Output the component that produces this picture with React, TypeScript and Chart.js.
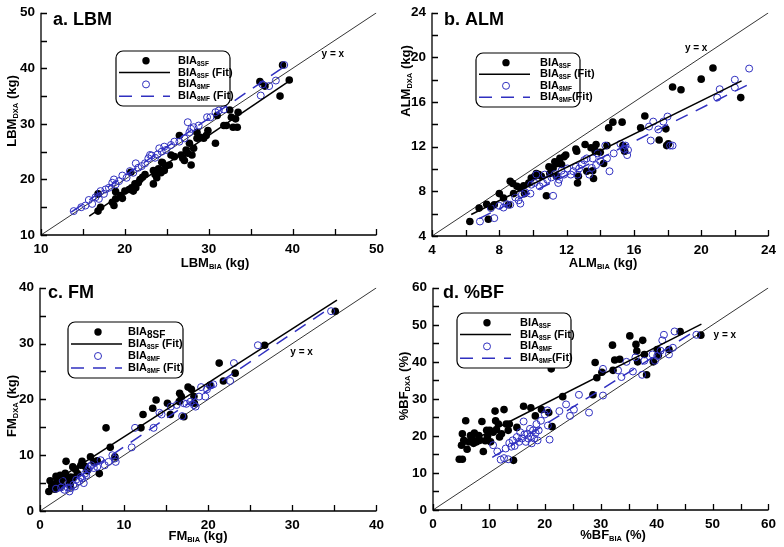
import React, { useEffect, useRef } from "react";
import { Chart, registerables } from "chart.js";
Chart.register(...registerables);

const FONT = "'Liberation Sans', Arial, Helvetica, sans-serif";
const BLUE = "#3030c0";

type Pt = [number, number];
type Seg = { t: string; sub?: boolean };

// ---------- a. LBM ----------
const lbmRange: Pt = [10, 50];
const lbmSF: Pt[] = [
  [16.8, 17.4], [16.8, 14.3], [17.1, 15.0], [18.5, 15.9], [18.7, 15.3], [18.9, 16.5], [18.9, 17.8], [19.5, 17.1],
  [19.7, 16.6], [20.0, 17.9], [20.5, 18.2], [20.8, 18.5], [21.0, 17.9], [21.2, 19.2], [21.3, 18.5], [21.6, 19.4],
  [21.8, 20.0], [22.1, 20.4], [22.4, 20.9], [23.4, 19.2], [23.4, 21.6], [23.6, 20.9], [23.8, 20.3], [24.0, 21.9],
  [24.3, 21.2], [24.4, 23.1], [24.7, 21.6], [24.9, 22.4], [25.3, 22.6], [25.5, 24.4], [25.9, 24.1], [26.5, 27.9],
  [26.7, 24.4], [26.9, 23.8], [27.1, 23.4], [27.3, 25.3], [27.5, 24.7], [27.7, 26.5], [27.9, 22.6], [28.0, 24.4],
  [28.2, 25.6], [28.6, 28.5], [28.6, 27.4], [29.0, 27.6], [29.4, 27.4], [29.7, 27.9], [29.9, 28.8], [30.8, 26.5],
  [31.0, 31.5], [31.8, 29.7], [32.1, 29.7], [32.5, 32.5], [32.7, 31.2], [32.9, 29.4], [33.2, 30.9], [33.4, 29.4],
  [33.5, 32.1], [36.1, 37.6], [36.7, 36.8], [38.5, 35.0], [38.8, 40.6], [39.6, 37.9], [20.7, 21.3], [24.5, 23.0],
];
const lbmMF: Pt[] = [
  [13.9, 14.3], [14.8, 15.0], [15.3, 15.3], [15.7, 16.3], [16.1, 15.6], [16.5, 16.8], [16.9, 16.5], [17.1, 17.9],
  [17.5, 17.4], [17.7, 18.2], [18.1, 18.5], [18.5, 19.4], [18.7, 20.0], [18.9, 19.1], [19.3, 19.7], [19.7, 20.7],
  [20.2, 20.3], [20.6, 21.5], [21.0, 21.2], [21.3, 22.9], [21.6, 22.1], [22.0, 22.4], [22.4, 22.9], [22.8, 23.8],
  [23.0, 24.4], [23.2, 24.3], [23.6, 23.9], [23.9, 24.5], [24.1, 25.6], [24.4, 25.0], [24.7, 25.9], [24.9, 25.3],
  [25.5, 26.2], [25.9, 26.8], [26.5, 26.8], [27.1, 27.4], [27.5, 30.3], [27.7, 28.5], [27.9, 29.1], [28.2, 29.4],
  [28.8, 29.7], [29.8, 31.2], [30.2, 31.2], [30.8, 32.1], [31.2, 32.4], [31.8, 32.6], [36.2, 35.1], [36.4, 37.1],
  [37.2, 36.8], [38.0, 37.8], [39.0, 40.6],
];
const lbmSFFit: Pt[] = [[15.75, 13.4], [39.8, 37.9]];
const lbmMFFit: Pt[] = [[13.6, 14.1], [39.2, 40.5]];
const lbmYxLabel: Pt = [44.8, 42.6];

// ---------- b. ALM ----------
const almRange: Pt = [4, 24];
const almSF: Pt[] = [
  [6.25, 5.3], [6.8, 6.5], [7.35, 5.5], [7.25, 6.85], [7.5, 6.6], [7.7, 6.8], [8.0, 7.8], [8.25, 7.4],
  [8.55, 6.8], [8.65, 8.9], [8.8, 8.7], [8.85, 7.8], [9.05, 8.45], [9.25, 8.3], [9.45, 8.5], [9.5, 7.8],
  [9.75, 8.75], [9.9, 9.2], [10.1, 9.35], [10.2, 9.6], [10.35, 9.5], [10.5, 9.35], [10.8, 7.6], [10.95, 10.2],
  [11.0, 9.6], [11.2, 10.1], [11.3, 10.65], [11.4, 9.35], [11.45, 10.5], [11.6, 10.95], [11.7, 10.4], [11.85, 11.1],
  [11.95, 11.25], [12.55, 11.8], [12.6, 11.6], [12.65, 8.75], [12.7, 9.35], [13.1, 12.2], [13.2, 9.8], [13.45, 11.9],
  [13.55, 9.85], [13.6, 9.15], [13.7, 11.6], [13.75, 12.2], [14.0, 11.5], [14.2, 10.5], [14.4, 12.1], [14.5, 13.7],
  [14.75, 14.2], [15.3, 14.2], [15.35, 12.1], [15.45, 11.6], [16.4, 13.7], [16.65, 14.75], [17.5, 12.6], [17.9, 13.6],
  [17.95, 12.1], [18.05, 12.25], [18.3, 17.35], [18.8, 17.1], [20.0, 18.05], [20.7, 19.05], [22.35, 16.4],
];
const almMF: Pt[] = [
  [6.85, 5.3], [7.7, 5.6], [7.5, 6.5], [8.0, 6.7], [8.25, 6.55], [8.45, 6.85], [8.65, 6.8], [8.95, 7.45],
  [9.15, 7.2], [9.25, 6.9], [9.35, 7.75], [9.55, 7.9], [9.85, 7.8], [9.9, 8.6], [10.1, 8.75], [10.2, 9.5],
  [10.4, 8.45], [10.6, 8.75], [10.7, 9.5], [10.85, 9.05], [11.1, 9.25], [11.2, 7.6], [11.3, 9.55], [11.5, 8.75],
  [11.55, 9.05], [11.7, 9.85], [11.85, 9.5], [12.05, 10.05], [12.25, 9.5], [12.4, 9.8], [12.55, 10.2], [12.65, 9.5],
  [12.75, 10.05], [12.9, 10.4], [13.05, 10.8], [13.2, 10.95], [13.35, 9.5], [13.5, 10.1], [13.55, 10.95], [13.75, 10.35],
  [13.85, 11.4], [14.0, 10.7], [14.3, 12.1], [14.4, 10.95], [14.55, 9.8], [14.8, 11.4], [15.2, 12.25], [15.4, 11.8],
  [15.5, 12.1], [15.6, 11.25], [15.65, 11.7], [17.0, 12.55], [16.9, 13.8], [17.15, 14.25], [17.45, 13.55], [17.75, 14.25],
  [18.0, 14.7], [18.15, 12.1], [18.3, 12.1], [20.95, 16.4], [21.1, 17.15], [22.0, 17.3], [22.0, 18.0], [22.85, 19.0],
];
const almSFFit: Pt[] = [[6.33, 5.93], [22.4, 17.9]];
const almMFFit: Pt[] = [[6.8, 5.55], [22.85, 17.6]];
const almYxLabel: Pt = [19.7, 20.8];

// ---------- c. FM ----------
const fmRange: Pt = [0, 40];
const fmSF: Pt[] = [
  [1.05, 3.5], [1.2, 5.4], [1.5, 4.0], [1.7, 4.7], [2.0, 5.85], [2.2, 5.3], [2.4, 6.4], [2.6, 4.6],
  [2.75, 5.85], [3.0, 6.75], [3.1, 8.9], [3.3, 5.85], [3.5, 5.0], [3.65, 6.1], [3.9, 7.9], [4.2, 7.5],
  [4.45, 6.7], [4.85, 8.2], [5.0, 8.9], [5.35, 8.0], [5.6, 7.2], [6.0, 9.7], [6.4, 8.8], [6.8, 9.0],
  [7.05, 6.7], [7.85, 14.9], [8.35, 11.4], [8.9, 9.7], [12.0, 14.9], [12.25, 17.3], [13.4, 18.4], [13.8, 19.9],
  [15.15, 19.3], [15.5, 17.3], [16.55, 19.6], [16.6, 21.1], [16.8, 20.5], [17.1, 16.9], [17.6, 22.2], [18.0, 21.8],
  [18.3, 20.5], [18.35, 19.3], [20.2, 22.5], [21.3, 26.5], [21.8, 23.3], [23.2, 24.7], [26.7, 29.7], [35.1, 35.8],
  [1.4, 4.4], [1.9, 6.2], [2.3, 4.2], [2.9, 6.3], [3.6, 4.5], [2.5, 5.6], [4.0, 6.0], [1.8, 3.9],
];
const fmMF: Pt[] = [
  [1.9, 4.0], [2.5, 4.2], [2.7, 5.4], [2.9, 3.8], [3.3, 4.2], [3.5, 3.5], [3.65, 4.1], [3.95, 4.7],
  [4.15, 4.4], [4.3, 5.6], [4.65, 5.3], [4.85, 6.1], [5.0, 5.85], [5.2, 5.0], [5.35, 6.7], [5.5, 6.4],
  [5.75, 7.5], [5.9, 7.9], [6.1, 8.2], [6.4, 7.7], [6.8, 7.9], [7.2, 9.1], [7.7, 8.2], [8.15, 8.8],
  [8.6, 10.0], [8.9, 9.4], [9.0, 8.8], [10.9, 11.4], [11.3, 14.9], [13.5, 14.9], [14.2, 17.6], [14.45, 17.3],
  [15.55, 18.7], [16.25, 19.0], [16.9, 17.0], [17.1, 19.3], [17.4, 19.2], [17.9, 19.6], [18.3, 19.0], [18.5, 18.7],
  [18.9, 20.5], [19.15, 22.2], [19.65, 20.5], [19.85, 21.8], [20.3, 22.5], [20.6, 22.7], [22.6, 23.3], [23.05, 26.5],
  [25.9, 29.7], [34.6, 35.8],
];
const fmSFFit: Pt[] = [[1.0, 4.6], [35.3, 37.8]];
const fmMFFit: Pt[] = [[2.1, 3.5], [34.5, 36.4]];
const fmYxLabel: Pt = [31.1, 28.4];

// ---------- d. %BF ----------
const bfRange: Pt = [0, 60];
const bfSF: Pt[] = [
  [4.7, 13.7], [5.25, 13.7], [5.1, 17.5], [5.25, 20.6], [5.5, 18.8], [5.85, 24.1], [6.1, 16.4], [6.4, 18.4],
  [6.7, 20.1], [7.0, 19.7], [7.25, 18.0], [7.4, 20.8], [7.8, 18.4], [8.2, 20.1], [8.4, 18.8], [8.75, 23.9],
  [9.0, 15.8], [9.35, 18.7], [9.6, 21.5], [9.75, 19.9], [10.15, 21.5], [10.3, 18.4], [10.75, 21.0], [11.1, 26.7],
  [11.2, 24.1], [11.35, 21.7], [11.7, 23.2], [11.9, 19.7], [12.25, 20.6], [12.7, 27.1], [13.1, 23.2], [13.45, 21.5],
  [13.65, 23.2], [14.4, 13.4], [15.0, 22.3], [16.2, 28.0], [17.5, 27.6], [18.3, 25.4], [19.4, 27.1], [20.7, 26.3],
  [21.15, 38.1], [21.3, 22.5], [23.2, 30.6], [28.6, 31.1], [29.0, 39.8], [29.3, 35.7], [30.2, 37.2], [32.1, 44.5],
  [32.2, 37.7], [32.5, 40.5], [33.4, 40.7], [35.2, 47.0], [36.3, 44.7], [36.45, 42.9], [36.6, 40.0], [37.5, 45.8],
  [37.8, 42.0], [38.2, 36.5], [39.4, 40.0], [40.1, 43.3], [40.3, 41.8], [42.2, 43.3], [44.2, 48.2], [47.9, 47.2],
];
const bfMF: Pt[] = [
  [10.75, 17.5], [11.5, 15.8], [12.1, 13.6], [12.7, 14.0], [13.0, 16.6], [13.45, 13.7], [13.65, 18.1], [14.0, 17.1],
  [14.25, 18.8], [14.6, 17.3], [15.0, 19.7], [15.4, 18.4], [15.6, 21.0], [15.9, 19.3], [16.2, 23.9], [16.35, 20.4],
  [16.6, 18.4], [16.9, 20.6], [17.05, 19.3], [17.35, 21.9], [17.5, 19.9], [17.65, 18.0], [17.9, 21.5], [18.1, 19.3],
  [18.35, 20.8], [18.5, 23.2], [18.7, 18.8], [18.9, 21.5], [19.3, 24.1], [20.0, 25.8], [20.45, 26.9], [20.55, 22.8],
  [20.85, 19.0], [22.6, 26.7], [23.8, 28.5], [24.5, 25.4], [25.2, 27.1], [26.1, 31.1], [27.9, 26.3], [30.4, 38.1],
  [30.4, 30.9], [33.1, 37.7], [33.7, 35.9], [34.6, 40.0], [35.75, 37.4], [36.2, 41.2], [37.4, 36.5], [37.8, 40.3],
  [39.25, 42.0], [39.7, 40.3], [40.1, 41.6], [40.7, 43.0], [41.0, 45.8], [41.3, 47.3], [42.2, 42.0], [42.9, 43.8],
  [43.2, 48.2], [47.1, 47.3],
];
const bfSFFit: Pt[] = [[5.0, 17.2], [48.0, 50.2]];
const bfMFFit: Pt[] = [[10.6, 14.2], [46.3, 47.8]];
const bfYxLabel: Pt = [52.2, 47.1];

// ---------- text ----------
const legendA: Seg[][] = [
  [{ t: "BIA" }, { t: "8SF", sub: true }],
  [{ t: "BIA" }, { t: "8SF", sub: true }, { t: " (Fit)" }],
  [{ t: "BIA" }, { t: "8MF", sub: true }],
  [{ t: "BIA" }, { t: "8MF", sub: true }, { t: " (Fit)" }],
];
const legendB: Seg[][] = [
  [{ t: "BIA" }, { t: "8SF", sub: true }],
  [{ t: "BIA" }, { t: "8SF", sub: true }, { t: " (Fit)" }],
  [{ t: "BIA" }, { t: "8MF", sub: true }],
  [{ t: "BIA" }, { t: "8MF", sub: true }, { t: "(Fit)" }],
];
const legendC: Seg[][] = [
  [{ t: "BIA" }, { t: "8SF", sub: true }],
  [{ t: "BIA" }, { t: "8SF", sub: true }, { t: " (Fit)" }],
  [{ t: "BIA" }, { t: "8MF", sub: true }],
  [{ t: "BIA" }, { t: "8MF", sub: true }, { t: " (Fit)" }],
];
const legendD: Seg[][] = [
  [{ t: "BIA" }, { t: "8SF", sub: true }],
  [{ t: "BIA" }, { t: "8SF", sub: true }, { t: " (Fit)" }],
  [{ t: "BIA" }, { t: "8MF", sub: true }],
  [{ t: "BIA" }, { t: "8MF", sub: true }, { t: "(Fit)" }],
];

interface Panel {
  title: string;
  range: Pt; minor: number; major: number;
  sf: Pt[]; mf: Pt[]; sfFit: Pt[]; mfFit: Pt[]; yx: Pt;
  xTitle: Seg[]; yTitle: Seg[]; legend: Seg[][]; bigFirstSub?: boolean;
  cv: { x: number; y: number; w: number; h: number };
  area: { l: number; t: number; r: number; b: number };
  titlePos: Pt; xTitlePos: Pt; yTitlePos: Pt;
  legendBox: [number, number, number, number]; legendTextX: number;
}

const panels: Panel[] = [
  {
    title: "a. LBM", range: lbmRange, minor: 5, major: 10,
    sf: lbmSF, mf: lbmMF, sfFit: lbmSFFit, mfFit: lbmMFFit, yx: lbmYxLabel,
    xTitle: [{ t: "LBM" }, { t: "BIA", sub: true }, { t: " (kg)" }],
    yTitle: [{ t: "LBM" }, { t: "DXA", sub: true }, { t: " (kg)" }],
    legend: legendA,
    cv: { x: 0, y: 0, w: 392, h: 275 }, area: { l: 41, t: 8, r: 382, b: 235 },
    titlePos: [53, 25], xTitlePos: [215, 263], yTitlePos: [12, 111],
    legendBox: [116, 51, 114, 55], legendTextX: 62,
  },
  {
    title: "b. ALM", range: almRange, minor: 2, major: 4,
    sf: almSF, mf: almMF, sfFit: almSFFit, mfFit: almMFFit, yx: almYxLabel,
    xTitle: [{ t: "ALM" }, { t: "BIA", sub: true }, { t: " (kg)" }],
    yTitle: [{ t: "ALM" }, { t: "DXA", sub: true }, { t: " (kg)" }],
    legend: legendB,
    cv: { x: 392, y: 0, w: 392, h: 275 }, area: { l: 40, t: 8, r: 381, b: 236 },
    titlePos: [52, 25], xTitlePos: [211, 263], yTitlePos: [14, 81],
    legendBox: [84, 53, 104, 54], legendTextX: 64,
  },
  {
    title: "c. FM", range: fmRange, minor: 5, major: 10,
    sf: fmSF, mf: fmMF, sfFit: fmSFFit, mfFit: fmMFFit, yx: fmYxLabel,
    xTitle: [{ t: "FM" }, { t: "BIA", sub: true }, { t: " (kg)" }],
    yTitle: [{ t: "FM" }, { t: "DXA", sub: true }, { t: " (kg)" }],
    legend: legendC, bigFirstSub: true,
    cv: { x: 0, y: 275, w: 392, h: 272 }, area: { l: 40, t: 9, r: 382, b: 236 },
    titlePos: [48, 23.3], xTitlePos: [198, 261], yTitlePos: [12, 131],
    legendBox: [68, 47, 115, 56], legendTextX: 60,
  },
  {
    title: "d. %BF", range: bfRange, minor: 5, major: 10,
    sf: bfSF, mf: bfMF, sfFit: bfSFFit, mfFit: bfMFFit, yx: bfYxLabel,
    xTitle: [{ t: "%BF" }, { t: "BIA", sub: true }, { t: " (%)" }],
    yTitle: [{ t: "%BF" }, { t: "DXA", sub: true }, { t: " (%)" }],
    legend: legendD,
    cv: { x: 392, y: 275, w: 392, h: 272 }, area: { l: 41, t: 7, r: 383, b: 235 },
    titlePos: [51, 23.3], xTitlePos: [221, 260], yTitlePos: [12, 111],
    legendBox: [65, 38, 114, 55], legendTextX: 63,
  },
];

function drawSegs(ctx: CanvasRenderingContext2D, segs: Seg[], x: number, y: number, size: number, subSize: number, center: boolean) {
  let w = 0;
  for (const s of segs) {
    ctx.font = `bold ${s.sub ? subSize : size}px ${FONT}`;
    w += ctx.measureText(s.t).width;
  }
  let cx = center ? x - w / 2 : x;
  ctx.textAlign = "left";
  ctx.textBaseline = "middle";
  for (const s of segs) {
    ctx.font = `bold ${s.sub ? subSize : size}px ${FONT}`;
    ctx.fillText(s.t, cx, s.sub ? y + size * 0.3 : y);
    cx += ctx.measureText(s.t).width;
  }
}

function roundRectPath(ctx: CanvasRenderingContext2D, x: number, y: number, w: number, h: number, r: number) {
  ctx.beginPath();
  ctx.moveTo(x + r, y);
  ctx.arcTo(x + w, y, x + w, y + h, r);
  ctx.arcTo(x + w, y + h, x, y + h, r);
  ctx.arcTo(x, y + h, x, y, r);
  ctx.arcTo(x, y, x + w, y, r);
  ctx.closePath();
}

const decor = {
  id: "decor",
  afterDraw(chart: any, _args: any, opts: any) {
    const p: Panel = opts.cfg;
    if (!p) return;
    const ctx: CanvasRenderingContext2D = chart.ctx;
    const { left, right, top, bottom } = chart.chartArea;
    const xs = chart.scales.x, ys = chart.scales.y;
    const [mn, mx] = p.range;
    ctx.save();
    ctx.fillStyle = "#000";
    ctx.strokeStyle = "#000";
    // axes
    ctx.lineWidth = 1.3;
    ctx.beginPath();
    ctx.moveTo(left, top);
    ctx.lineTo(left, bottom);
    ctx.lineTo(right, bottom);
    ctx.stroke();
    // inner ticks at every minor step
    ctx.lineWidth = 1.3;
    ctx.beginPath();
    const n = Math.round((mx - mn) / p.minor);
    for (let i = 0; i <= n; i++) {
      const v = mn + i * p.minor;
      const px = Math.round(xs.getPixelForValue(v)) + 0.5;
      ctx.moveTo(px, bottom);
      ctx.lineTo(px, bottom - 6);
      const py = Math.round(ys.getPixelForValue(v)) + 0.5;
      ctx.moveTo(left, py);
      ctx.lineTo(left + 6, py);
    }
    ctx.stroke();
    // panel title
    ctx.font = `bold 18px ${FONT}`;
    ctx.textAlign = "left";
    ctx.textBaseline = "alphabetic";
    ctx.fillText(p.title, p.titlePos[0], p.titlePos[1]);
    // y = x label
    ctx.font = `bold 10px ${FONT}`;
    ctx.textAlign = "center";
    ctx.textBaseline = "middle";
    ctx.fillText("y = x", xs.getPixelForValue(p.yx[0]), ys.getPixelForValue(p.yx[1]));
    // axis titles
    drawSegs(ctx, p.xTitle, p.xTitlePos[0], p.xTitlePos[1], 13, 7.5, true);
    ctx.save();
    ctx.translate(p.yTitlePos[0], p.yTitlePos[1]);
    ctx.rotate(-Math.PI / 2);
    drawSegs(ctx, p.yTitle, 0, 0, 13, 7.5, true);
    ctx.restore();
    // legend
    const [bx, by, bw, bh] = p.legendBox;
    roundRectPath(ctx, bx, by, bw, bh, 7);
    ctx.fillStyle = "#fff";
    ctx.fill();
    ctx.lineWidth = 1.2;
    ctx.strokeStyle = "#000";
    ctx.stroke();
    const rows = [10, 22, 34, 46].map((r) => by + r * (bh / 56));
    ctx.fillStyle = "#000";
    ctx.beginPath();
    ctx.arc(bx + 30, rows[0], 3.7, 0, Math.PI * 2);
    ctx.fill();
    ctx.beginPath();
    ctx.lineWidth = 1.5;
    ctx.moveTo(bx + 3, rows[1]);
    ctx.lineTo(bx + 54, rows[1]);
    ctx.stroke();
    ctx.beginPath();
    ctx.strokeStyle = BLUE;
    ctx.lineWidth = 1;
    ctx.arc(bx + 30, rows[2], 3.5, 0, Math.PI * 2);
    ctx.stroke();
    ctx.beginPath();
    ctx.lineWidth = 1.5;
    ctx.setLineDash([13, 9]);
    ctx.moveTo(bx + 3, rows[3]);
    ctx.lineTo(bx + 54, rows[3]);
    ctx.stroke();
    ctx.setLineDash([]);
    ctx.fillStyle = "#000";
    p.legend.forEach((segs, i) => {
      const sub = i === 0 && p.bigFirstSub ? 10 : 6.5;
      drawSegs(ctx, segs, bx + p.legendTextX, rows[i], 11, sub, false);
    });
    ctx.restore();
  },
};

const toXY = (arr: Pt[]) => arr.map(([x, y]) => ({ x, y }));

function buildConfig(p: Panel): any {
  const [mn, mx] = p.range;
  const isMajor = (v: number) => Math.abs(v / p.major - Math.round(v / p.major)) < 1e-6;
  const tickFont = { size: 13.5, weight: "bold", lineHeight: 1, family: FONT };
  return {
    type: "scatter",
    data: {
      datasets: [
        { data: toXY(p.mfFit), showLine: true, borderColor: BLUE, borderWidth: 1.5, borderDash: [13, 9], pointRadius: 0, order: 0 },
        { data: toXY(p.sfFit), showLine: true, borderColor: "#000", borderWidth: 1.5, pointRadius: 0, order: 1 },
        { data: toXY(p.mf), pointRadius: 3.5, pointBackgroundColor: "rgba(255,255,255,0)", pointBorderColor: BLUE, pointBorderWidth: 1, order: 2 },
        { data: toXY(p.sf), pointRadius: 3.8, pointBackgroundColor: "#000", pointBorderColor: "#000", pointBorderWidth: 0, order: 3 },
        { data: [{ x: mn, y: mn }, { x: mx, y: mx }], showLine: true, borderColor: "#000", borderWidth: 0.8, pointRadius: 0, order: 4 },
      ],
    },
    options: {
      responsive: false,
      animation: false,
      events: [],
      layout: { padding: { left: 0, top: p.area.t, right: p.cv.w - p.area.r, bottom: 0 } },
      plugins: { legend: { display: false }, tooltip: { enabled: false }, decor: { cfg: p } },
      scales: {
        x: {
          type: "linear", min: mn, max: mx,
          afterFit: (s: any) => { s.height = p.cv.h - p.area.b; },
          grid: { display: false, drawTicks: false },
          border: { display: false },
          ticks: { stepSize: p.minor, autoSkip: false, maxRotation: 0, padding: 8, color: "#000", font: tickFont,
            callback: (v: number) => (isMajor(v) ? String(v) : "") },
        },
        y: {
          type: "linear", min: mn, max: mx,
          afterFit: (s: any) => { s.width = p.area.l; },
          grid: { display: false, drawTicks: false },
          border: { display: false },
          ticks: { stepSize: p.minor, autoSkip: false, padding: 6, color: "#000", font: tickFont,
            callback: (v: number) => (isMajor(v) ? String(v) : "") },
        },
      },
    },
    plugins: [decor],
  };
}

function PanelChart({ p }: { p: Panel }) {
  const ref = useRef<HTMLCanvasElement>(null);
  useEffect(() => {
    if (!ref.current) return;
    const chart = new Chart(ref.current, buildConfig(p));
    return () => chart.destroy();
  }, [p]);
  return (
    <canvas
      ref={ref}
      width={p.cv.w}
      height={p.cv.h}
      style={{ position: "absolute", left: p.cv.x, top: p.cv.y, width: p.cv.w, height: p.cv.h }}
    />
  );
}

export default function App() {
  Chart.defaults.font.family = FONT;
  return (
    <div style={{ position: "absolute", left: 0, top: 0, width: 784, height: 547, background: "#fff", overflow: "hidden" }}>
      {panels.map((p, i) => (
        <PanelChart key={i} p={p} />
      ))}
    </div>
  );
}
